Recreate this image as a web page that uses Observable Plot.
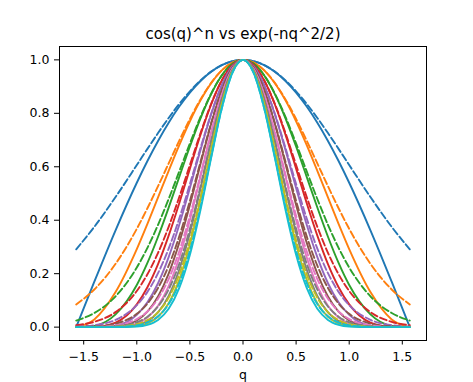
<!DOCTYPE html>
<html>
<head>
<meta charset="utf-8">
<script src="https://cdn.jsdelivr.net/npm/d3@7"></script>
<script src="https://cdn.jsdelivr.net/npm/@observablehq/plot@0.6"></script>
<style>
  html, body { margin: 0; padding: 0; background: #fff; }
</style>
</head>
<body>
<div id="chart"></div>
<script>
const qValues = [-1.5708,-1.4,-1.2,-1.0,-0.9,-0.8,-0.7,-0.6,-0.5,-0.4,-0.3,-0.2,-0.1,0,0.1,0.2,0.3,0.4,0.5,0.6,0.7,0.8,0.9,1.0,1.2,1.4,1.5708];

const cos1 = [0,.1700,.3624,.5403,.6216,.6967,.7648,.8253,.8776,.9211,.9553,.9801,.9950,1,.9950,.9801,.9553,.9211,.8776,.8253,.7648,.6967,.6216,.5403,.3624,.1700,0];
const cos2 = [0,.0289,.1313,.2919,.3864,.4854,.5850,.6812,.7702,.8484,.9127,.9605,.9900,1,.9900,.9605,.9127,.8484,.7702,.6812,.5850,.4854,.3864,.2919,.1313,.0289,0];
const cos3 = [0,.0049,.0476,.1577,.2402,.3382,.4474,.5622,.6759,.7814,.8719,.9414,.9851,1,.9851,.9414,.8719,.7814,.6759,.5622,.4474,.3382,.2402,.1577,.0476,.0049,0];
const cos4 = [0,.0008,.0172,.0852,.1493,.2356,.3422,.4640,.5931,.7197,.8330,.9226,.9802,1,.9802,.9226,.8330,.7197,.5931,.4640,.3422,.2356,.1493,.0852,.0172,.0008,0];
const cos5 = [0,.0001,.0062,.0460,.0928,.1642,.2617,.3829,.5205,.6629,.7958,.9042,.9753,1,.9753,.9042,.7958,.6629,.5205,.3829,.2617,.1642,.0928,.0460,.0062,.0001,0];
const cos6 = [0,0,.0023,.0249,.0577,.1144,.2002,.3161,.4568,.6106,.7602,.8862,.9704,1,.9704,.8862,.7602,.6106,.4568,.3161,.2002,.1144,.0577,.0249,.0023,0,0];
const cos7 = [0,0,.0008,.0134,.0359,.0797,.1531,.2609,.4009,.5624,.7263,.8685,.9655,1,.9655,.8685,.7263,.5624,.4009,.2609,.1531,.0797,.0359,.0134,.0008,0,0];
const cos8 = [0,0,.0003,.0073,.0223,.0555,.1171,.2153,.3518,.5180,.6938,.8512,.9607,1,.9607,.8512,.6938,.5180,.3518,.2153,.1171,.0555,.0223,.0073,.0003,0,0];
const cos9 = [0,0,.0001,.0039,.0139,.0387,.0896,.1777,.3087,.4771,.6628,.8343,.9559,1,.9559,.8343,.6628,.4771,.3087,.1777,.0896,.0387,.0139,.0039,.0001,0,0];
const cos10 = [0,0,0,.0021,.0086,.0269,.0685,.1466,.2709,.4394,.6332,.8176,.9511,1,.9511,.8176,.6332,.4394,.2709,.1466,.0685,.0269,.0086,.0021,0,0,0];

const gauss1 = [.2912,.3753,.4868,.6065,.6670,.7261,.7827,.8353,.8825,.9231,.9560,.9802,.9950,1,.9950,.9802,.9560,.9231,.8825,.8353,.7827,.7261,.6670,.6065,.4868,.3753,.2912];
const gauss2 = [.0848,.1409,.2369,.3679,.4449,.5273,.6126,.6977,.7788,.8521,.9139,.9608,.9900,1,.9900,.9608,.9139,.8521,.7788,.6977,.6126,.5273,.4449,.3679,.2369,.1409,.0848];
const gauss3 = [.0247,.0529,.1153,.2231,.2967,.3829,.4795,.5827,.6873,.7866,.8737,.9418,.9851,1,.9851,.9418,.8737,.7866,.6873,.5827,.4795,.3829,.2967,.2231,.1153,.0529,.0247];
const gauss4 = [.0072,.0198,.0561,.1353,.1979,.2780,.3753,.4868,.6065,.7261,.8353,.9231,.9802,1,.9802,.9231,.8353,.7261,.6065,.4868,.3753,.2780,.1979,.1353,.0561,.0198,.0072];
const gauss5 = [.0021,.0074,.0273,.0821,.1320,.2019,.2938,.4066,.5353,.6703,.7985,.9048,.9753,1,.9753,.9048,.7985,.6703,.5353,.4066,.2938,.2019,.1320,.0821,.0273,.0074,.0021];
const gauss6 = [.0006,.0028,.0133,.0498,.0880,.1466,.2299,.3396,.4724,.6188,.7634,.8869,.9704,1,.9704,.8869,.7634,.6188,.4724,.3396,.2299,.1466,.0880,.0498,.0133,.0028,.0006];
const gauss7 = [.0002,.0010,.0065,.0302,.0587,.1065,.1800,.2837,.4169,.5712,.7298,.8694,.9656,1,.9656,.8694,.7298,.5712,.4169,.2837,.1800,.1065,.0587,.0302,.0065,.0010,.0002];
const gauss8 = [.0001,.0004,.0032,.0183,.0392,.0773,.1409,.2369,.3679,.5273,.6977,.8521,.9608,1,.9608,.8521,.6977,.5273,.3679,.2369,.1409,.0773,.0392,.0183,.0032,.0004,.0001];
const gauss9 = [0,.0001,.0015,.0111,.0261,.0561,.1103,.1979,.3247,.4868,.6670,.8353,.9560,1,.9560,.8353,.6670,.4868,.3247,.1979,.1103,.0561,.0261,.0111,.0015,.0001,0];
const gauss10 = [0,0,.0007,.0067,.0174,.0408,.0863,.1653,.2865,.4493,.6376,.8187,.9512,1,.9512,.8187,.6376,.4493,.2865,.1653,.0863,.0408,.0174,.0067,.0007,0,0];

const cosCurves = [cos1, cos2, cos3, cos4, cos5, cos6, cos7, cos8, cos9, cos10];
const gaussCurves = [gauss1, gauss2, gauss3, gauss4, gauss5, gauss6, gauss7, gauss8, gauss9, gauss10];
const colors = ["#1f77b4","#ff7f0e","#2ca02c","#d62728","#9467bd","#8c564b","#e377c2","#7f7f7f","#bcbd22","#17becf"];
const xTicks = [-1.5,-1.0,-0.5,0,0.5,1.0,1.5];
const yTicks = [0,0.2,0.4,0.6,0.8,1.0];
const titleText = "cos(q)^n vs exp(-nq^2/2)";
const xLabel = "q";

const toRows = arr => qValues.map((q, i) => ({q, v: arr[i]}));

const lineMarks = [];
cosCurves.forEach((arr, k) => {
  lineMarks.push(Plot.line(toRows(arr), {x: "q", y: "v", stroke: colors[k], strokeWidth: 1.9, curve: "monotone-x"}));
  lineMarks.push(Plot.line(toRows(gaussCurves[k]), {x: "q", y: "v", stroke: colors[k], strokeWidth: 1.9, strokeDasharray: "7,3", curve: "monotone-x"}));
});

const chart = Plot.plot({
  width: 473,
  height: 382,
  marginLeft: 59,
  marginRight: 47,
  marginTop: 46,
  marginBottom: 42,
  style: {fontFamily: "DejaVu Sans", fontSize: "12.5px", background: "#fff", color: "#000"},
  x: {domain: [-1.7279, 1.7279]},
  y: {domain: [-0.05, 1.05]},
  marks: [
    ...lineMarks,
    Plot.frame({stroke: "#000", strokeWidth: 1}),
    Plot.axisX({ticks: xTicks, tickFormat: d3.format(".1f"), tickSize: 4.5, tickPadding: 7, fontSize: 12.5, label: null}),
    Plot.axisY({ticks: yTicks, tickFormat: d3.format(".1f"), tickSize: 5, tickPadding: 5, fontSize: 12.5, label: null}),
    Plot.text([xLabel], {frameAnchor: "bottom", dy: 34, lineAnchor: "middle", fontSize: 12.5, fill: "#000"}),
    Plot.text([titleText], {frameAnchor: "top", dy: -12, lineAnchor: "middle", fontSize: 15, fill: "#000"})
  ]
});
document.getElementById("chart").appendChild(chart);
</script>
</body>
</html>
